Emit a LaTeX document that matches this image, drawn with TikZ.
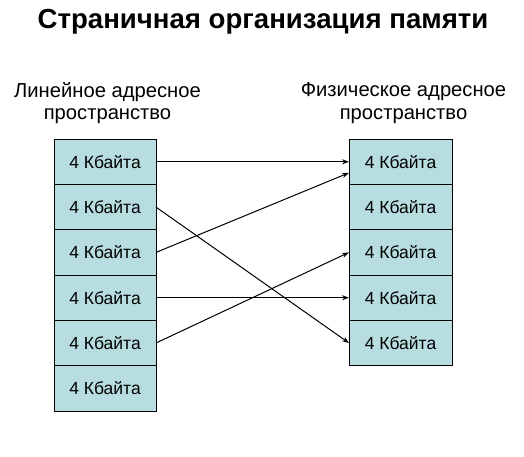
\documentclass[tikz,border=0pt]{standalone}
\usepackage{fontspec}
\setmainfont{Liberation Sans}
\usepackage{tikz}
\usetikzlibrary{arrows.meta, positioning}

\definecolor{pagefill}{RGB}{183,221,224}

\begin{document}
\begin{tikzpicture}[
        x=1pt, y=1pt,
        page/.style={rectangle, draw, line width=0.9pt, fill=pagefill, outer sep=0pt, minimum width=102pt, minimum height=45.3pt, align=center, font=\fontsize{17.5}{20}\selectfont},
        heading/.style={align=center, font=\fontsize{20.2}{22.5}\selectfont},
        arrow/.style={line width=1pt, -{Stealth[length=7pt, width=5pt]}}
        ]

        \useasboundingbox (0,0) rectangle (524,-456);

        % Title
        \node (title) at (263,-22) {\fontsize{27.6}{32}\selectfont\bfseries Страничная организация памяти};

        % Headings
        \node (linear) [heading] at (107.5,-103) {Линейное адресное\\пространство};
        \node (physical) [heading] at (403.5,-103) {Физическое адресное\\пространство};

        % Linear pages
        \node (l1) [page] at (105,-161.8) {4 Кбайта};
        \node (l2) [page, below=0pt of l1] {4 Кбайта};
        \node (l3) [page, below=0pt of l2] {4 Кбайта};
        \node (l4) [page, below=0pt of l3] {4 Кбайта};
        \node (l5) [page, below=0pt of l4] {4 Кбайта};
        \node (l6) [page, below=0pt of l5] {4 Кбайта};

        % Physical pages
        \node (p1) [page, minimum width=103pt] at (400.5,-161.8) {4 Кбайта};
        \node (p2) [page, minimum width=103pt, below=0pt of p1] {4 Кбайта};
        \node (p3) [page, minimum width=103pt, below=0pt of p2] {4 Кбайта};
        \node (p4) [page, minimum width=103pt, below=0pt of p3] {4 Кбайта};
        \node (p5) [page, minimum width=103pt, below=0pt of p4] {4 Кбайта};

        % Arrows
        \draw [arrow] (l1.east) -- (p1.west);
        \draw [arrow] (l2.east) -- (p5.west);
        \draw [arrow] (l3.east) -- ([yshift=-11pt]p1.west);
        \draw [arrow] (l4.east) -- (p4.west);
        \draw [arrow] (l5.east) -- (p3.west);

    \end{tikzpicture}
\end{document}
